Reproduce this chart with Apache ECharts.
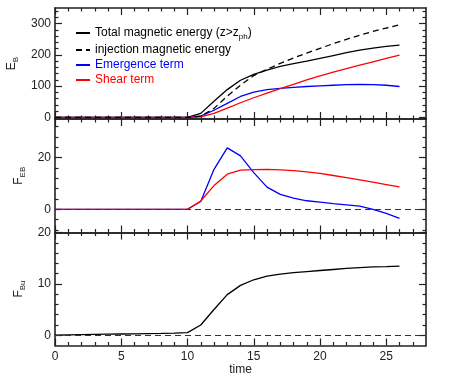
<!DOCTYPE html>
<html>
<head>
<meta charset="utf-8">
<script src="https://cdn.jsdelivr.net/npm/echarts@6/dist/echarts.min.js"></script>
<style>
  html, body { margin: 0; padding: 0; background: #fff; }
  #chart { width: 463px; height: 376px; }
</style>
</head>
<body>
<div id="chart"></div>
<script>
// time samples
var time = [0, 1, 2, 3, 4, 5, 6, 7, 8, 9, 10, 11, 12, 13, 14, 15, 16, 17, 18, 19, 20, 21, 22, 23, 24, 25, 26];

// panel 1 : E_B
var totalEnergy     = [0, 0, 0, 0, 0, 0, 0, 0, 0, 0, 0, 13, 52, 89, 119, 138, 151, 163, 172, 180, 189, 198, 207, 215, 222, 227, 231];
var injectionEnergy = [0, 0, 0, 0, 0, 0, 0, 0, 0, 0, 0, 4, 29, 68, 103, 134, 154, 173, 190, 206, 221, 236, 250, 263, 275, 286, 296];
var emergenceEnergy = [0, 0, 0, 0, 0, 0, 0, 0, 0, 0, 0, 4, 23, 45, 67, 81, 89, 93, 96, 99, 101, 103, 105, 106, 105, 103, 99];
var shearEnergy     = [0, 0, 0, 0, 0, 0, 0, 0, 0, 0, 0, 2, 13, 30, 47, 63, 78, 92, 106, 120, 133, 145, 156, 167, 178, 189, 199];

// panel 2 : F_EB
var emergenceFlux = [0, 0, 0, 0, 0, 0, 0, 0, 0, 0, 0, 3, 15.5, 23.8, 20.7, 14.2, 8.6, 5.8, 4.3, 3.3, 2.8, 2.2, 1.7, 1.2, 0, -1.6, -3.5];
var shearFlux     = [0, 0, 0, 0, 0, 0, 0, 0, 0, 0, 0, 3.2, 9.2, 13.6, 15.2, 15.4, 15.5, 15.3, 15.0, 14.5, 13.9, 13.1, 12.3, 11.4, 10.5, 9.6, 8.7];

// panel 3 : F_Bu
var buFlux = [0, 0.05, 0.1, 0.15, 0.2, 0.24, 0.28, 0.32, 0.36, 0.42, 0.5, 2.0, 5.0, 7.9, 9.7, 10.8, 11.5, 11.9, 12.2, 12.4, 12.6, 12.8, 13.0, 13.15, 13.3, 13.35, 13.45];

// tick values
var xMajor = [0, 5, 10, 15, 20, 25];
var xMinor = [1, 2, 3, 4, 6, 7, 8, 9, 11, 12, 13, 14, 16, 17, 18, 19, 21, 22, 23, 24, 26, 27];
var eMajor = [0, 100, 200, 300];
var eMinor = [20, 40, 60, 80, 120, 140, 160, 180, 220, 240, 260, 280, 320, 340];
var fMajor = [0, 20];
var fMinor = [-8, -4, 4, 8, 12, 16, 24, 28, 32];
var bMajor = [0, 10, 20];
var bMinor = [2, 4, 6, 8, 12, 14, 16, 18];

var names = ['Total magnetic energy (z>z_ph)', 'injection magnetic energy', 'Emergence term', 'Shear term'];

var FONT = 'Liberation Sans, Arial, Helvetica, sans-serif';
var INK = '#222';

function pairs (ys) {
  return time.map(function (t, i) { return [t, ys[i]] })
}

// fixed panel boxes, no auto shrink to fit labels
var grids = [
  { left: 55, top: 8, width: 371, height: 111, outerBoundsMode: 'none' },
  { left: 55, top: 119, width: 371, height: 113.5, outerBoundsMode: 'none' },
  { left: 55, top: 232.5, width: 371, height: 113, outerBoundsMode: 'none' }
]

var yRanges = [[-5, 350], [-9, 35], [-2, 20]]
var yMajors = [eMajor, fMajor, bMajor]
var yMinors = [eMinor, fMinor, bMinor]
var yNames = ['{m|E}{sub|B}', '{m|F}{sub|EB}', '{m|F}{sub|Bu}']

var nameRich = {
  m: { fontSize: 12, fontFamily: FONT, color: INK, lineHeight: 16, verticalAlign: 'middle' },
  sub: { fontSize: 8, fontFamily: FONT, color: INK, lineHeight: 8, verticalAlign: 'bottom' }
}

var xAxes = []
var yAxes = []
grids.forEach(function (g, gi) {
  ['bottom', 'top'].forEach(function (pos) {
    var major = {
      gridIndex: gi, type: 'value', position: pos, min: 0, max: 28,
      axisLine: { show: true, onZero: false, lineStyle: { color: INK, width: 1.6 } },
      axisTick: { show: true, inside: true, length: 7, customValues: xMajor, lineStyle: { color: INK, width: 1.2 } },
      axisLabel: { show: gi === 2 && pos === 'bottom', customValues: xMajor, margin: 5, fontSize: 12, fontFamily: FONT, color: INK },
      splitLine: { show: false }
    }
    if (gi === 2 && pos === 'bottom') {
      major.name = 'time'
      major.nameLocation = 'middle'
      major.nameGap = 18
      major.nameTextStyle = { fontSize: 12, fontFamily: FONT, color: INK }
    }
    xAxes.push(major)
    xAxes.push({
      gridIndex: gi, type: 'value', position: pos, min: 0, max: 28,
      axisLine: { show: false, onZero: false },
      axisTick: { show: true, inside: true, length: 3.5, customValues: xMinor, lineStyle: { color: INK, width: 1.2 } },
      axisLabel: { show: false },
      splitLine: { show: false }
    })
  })
  ;['left', 'right'].forEach(function (pos) {
    var major = {
      gridIndex: gi, type: 'value', position: pos, min: yRanges[gi][0], max: yRanges[gi][1],
      axisLine: { show: true, onZero: false, lineStyle: { color: INK, width: 1.6 } },
      axisTick: { show: true, inside: true, length: 7, customValues: yMajors[gi], lineStyle: { color: INK, width: 1.2 } },
      axisLabel: { show: pos === 'left', customValues: yMajors[gi], margin: 4, fontSize: 12, fontFamily: FONT, color: INK },
      splitLine: { show: false }
    }
    if (pos === 'left') {
      major.name = yNames[gi]
      major.nameLocation = 'middle'
      major.nameRotate = 90
      major.nameGap = 25
      major.nameTextStyle = { rich: nameRich }
    }
    yAxes.push(major)
    yAxes.push({
      gridIndex: gi, type: 'value', position: pos, min: yRanges[gi][0], max: yRanges[gi][1],
      axisLine: { show: false, onZero: false },
      axisTick: { show: true, inside: true, length: 3.5, customValues: yMinors[gi], lineStyle: { color: INK, width: 1.2 } },
      axisLabel: { show: false },
      splitLine: { show: false }
    })
  })
})

function lineSeries (name, gi, ys, color, extra) {
  var s = {
    name: name,
    type: 'line',
    xAxisIndex: gi * 4,
    yAxisIndex: gi * 4,
    data: pairs(ys),
    symbol: 'none',
    lineStyle: { color: color, width: 1.3 },
    itemStyle: { color: color }
  }
  return Object.assign(s, extra || {})
}

var zeroLine = {
  silent: true,
  symbol: ['none', 'none'],
  label: { show: false },
  lineStyle: { type: [6, 4], color: '#333', width: 1.2 },
  data: [{ yAxis: 0 }]
}

var myChart = echarts.init(document.getElementById('chart'), null, { renderer: 'canvas' })
myChart.setOption({
  animation: false,
  grid: grids,
  xAxis: xAxes,
  yAxis: yAxes,
  legend: {
    left: 70,
    top: 22,
    orient: 'vertical',
    itemWidth: 14,
    itemHeight: 10,
    itemGap: 3,
    selectedMode: false,
    itemStyle: { opacity: 0 },
    data: [
      { name: names[0], textStyle: { color: '#000' } },
      { name: names[1], textStyle: { color: '#000' } },
      { name: names[2], textStyle: { color: '#0000ff' } },
      { name: names[3], textStyle: { color: '#ff0000' } }
    ],
    formatter: function (n) {
      if (n === names[0]) return '{m|Total magnetic energy (z>z}{sub|ph}{m|)}'
      return n
    },
    textStyle: {
      fontSize: 12,
      fontFamily: FONT,
      rich: {
        m: { fontSize: 12, fontFamily: FONT, lineHeight: 16, verticalAlign: 'middle' },
        sub: { fontSize: 8, fontFamily: FONT, lineHeight: 8, verticalAlign: 'bottom' }
      }
    }
  },
  series: [
    lineSeries(names[0], 0, totalEnergy, '#000000'),
    lineSeries(names[2], 0, emergenceEnergy, '#0000ff'),
    lineSeries(names[3], 0, shearEnergy, '#ff0000'),
    lineSeries(names[1], 0, injectionEnergy, '#000000', { z: 3, lineStyle: { color: '#000', width: 1.3, type: [6, 4] } }),
    lineSeries('FEB emergence', 1, emergenceFlux, '#0000ff', { markLine: zeroLine }),
    lineSeries('FEB shear', 1, shearFlux, '#ff0000'),
    lineSeries('FBu', 2, buFlux, '#000000', { markLine: zeroLine })
  ]
})
</script>
</body>
</html>
